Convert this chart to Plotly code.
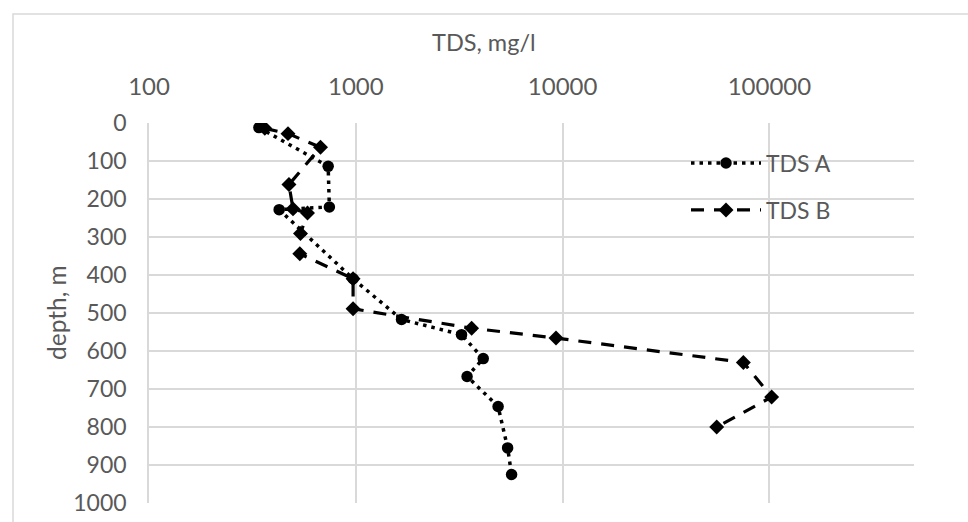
import plotly.graph_objects as go

# ---- data ----
depth_a = [12, 114, 221, 228, 410, 517, 557, 620, 667, 746, 855, 925]
tds_a = [340, 735, 745, 426, 970, 1664, 3245, 4131, 3451, 4876, 5420, 5665]

depth_b = [14, 28, 64, 162, 226, 237, 291, 344, 410, 489, 540, 566, 630, 721, 800]
tds_b = [363, 470, 675, 475, 497, 584, 540, 536, 970, 970, 3630, 9290, 74800, 102500, 55600]

x_tickvals = [100, 1000, 10000, 100000]
x_ticktext = ["100", "1000", "10000", "100000"]

FONT = "Lato"
GRAY = "#595959"
GRID = "#d9d9d9"

fig = go.Figure()
fig.add_trace(go.Scatter(
    x=tds_a, y=depth_a, name="TDS A", mode="lines+markers",
    line=dict(color="black", width=3.5, dash="3.5px,5px"),
    marker=dict(symbol="circle", size=11.5, color="black"),
    legend="legend",
))
fig.add_trace(go.Scatter(
    x=tds_b, y=depth_b, name="TDS B", mode="lines+markers",
    line=dict(color="black", width=3.2, dash="13px,10px"),
    marker=dict(symbol="diamond", size=11.5, color="black"),
    legend="legend2",
))

W, H = 968, 522
L, R, T, B = 149, 54, 123, 19
pw, ph = W - L - R, H - T - B

def px(xp):
    return (xp - L) / pw

def py(yp):
    return (H - B - yp) / ph

fig.update_layout(
    width=W, height=H,
    margin=dict(l=L, r=R, t=T, b=B, autoexpand=False),
    paper_bgcolor="white", plot_bgcolor="white",
    font=dict(family=FONT, size=23, color=GRAY),
    xaxis=dict(
        type="log", range=[2, 5.699], side="top",
        tickvals=x_tickvals, ticktext=x_ticktext,
        showgrid=True, gridcolor=GRID, gridwidth=1.5,
        zeroline=False, showline=False, ticks="",
        tickfont=dict(family=FONT, size=24, color=GRAY),
        ticklabelstandoff=22,
    ),
    yaxis=dict(
        range=[1000, 0], tick0=0, dtick=100,
        showgrid=True, gridcolor=GRID, gridwidth=1.5,
        zeroline=False, showline=True, linecolor=GRID, linewidth=1.5,
        ticks="", tickfont=dict(family=FONT, size=23, color=GRAY),
        ticklabelstandoff=16,
    ),
    legend=dict(
        x=px(686), y=py(163), xanchor="left", yanchor="middle",
        bgcolor="rgba(0,0,0,0)", borderwidth=0, itemwidth=70,
        font=dict(family=FONT, size=23, color=GRAY),
    ),
    legend2=dict(
        x=px(686), y=py(210), xanchor="left", yanchor="middle",
        bgcolor="rgba(0,0,0,0)", borderwidth=0, itemwidth=70,
        font=dict(family=FONT, size=23, color=GRAY),
    ),
    showlegend=True,
    annotations=[
        dict(text="TDS, mg/l", xref="paper", yref="paper",
             x=px(484), y=py(42), xanchor="center", yanchor="middle",
             showarrow=False, font=dict(family=FONT, size=23.5, color=GRAY)),
        dict(text="depth, m", xref="paper", yref="paper",
             x=px(56), y=py(313), xanchor="center", yanchor="middle",
             textangle=-90, showarrow=False,
             font=dict(family=FONT, size=24.5, color=GRAY)),
    ],
    shapes=[
        dict(type="rect", xref="paper", yref="paper",
             x0=px(13), x1=px(990), y0=py(540), y1=py(14),
             line=dict(color=GRID, width=1.5), layer="below"),
    ],
)

fig.write_html(
    "out.html",
    config={"displayModeBar": False},
    post_script="document.body.style.margin='0';document.body.style.overflow='hidden';",
)
